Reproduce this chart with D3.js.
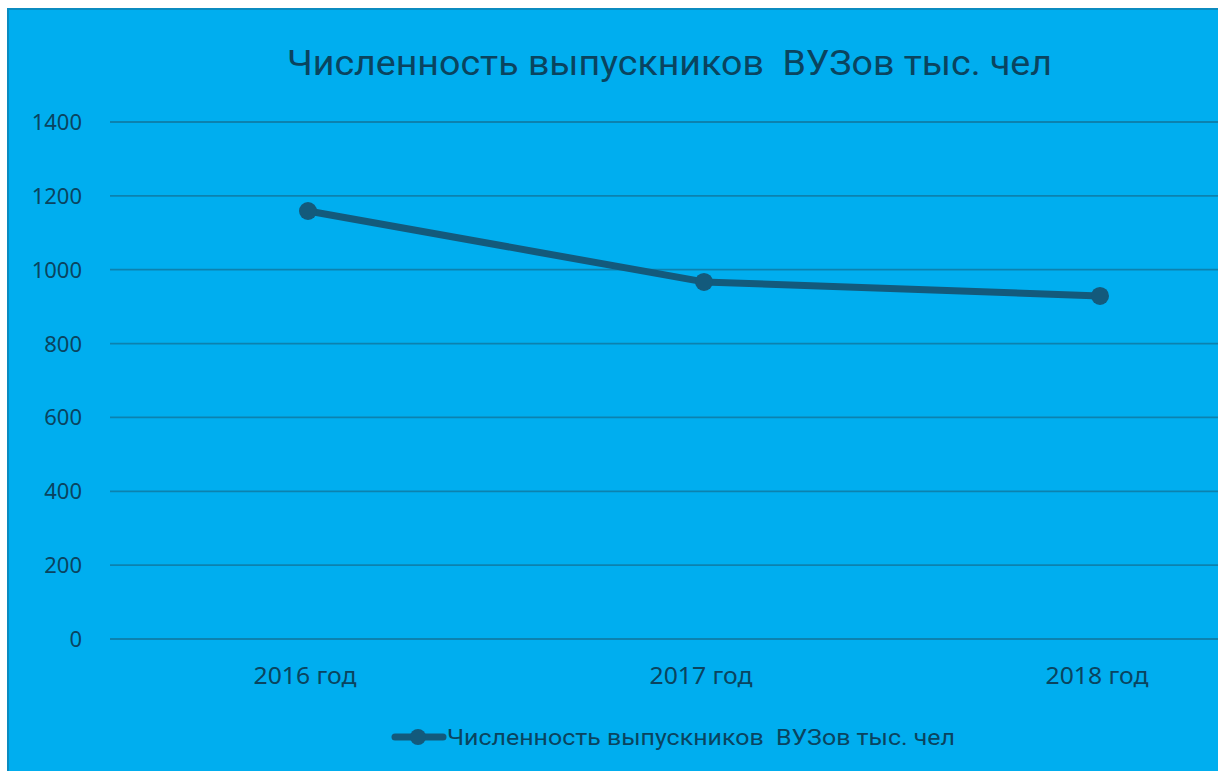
<!DOCTYPE html>
<html>
<head>
<meta charset="utf-8">
<title>Численность выпускников ВУЗов</title>
<script src="https://cdn.jsdelivr.net/npm/d3@7"></script>
<style>
  * { margin:0; padding:0; }
  body { background:#fff; width:1218px; height:771px; overflow:hidden; }
  svg { display:block; }
  text { white-space: pre; }
</style>
</head>
<body>
<svg id="chart" width="1218" height="771"></svg>
<script>
// data
var years = ["2016 год", "2017 год", "2018 год"];
var graduates = [1159, 967, 929];
var yTicks = [0, 200, 400, 600, 800, 1000, 1200, 1400];
var titleText = "Численность выпускников  ВУЗов тыс. чел";

var bg = "#00AEEF", ink = "#0A445F", lineCol = "#135A7C", gridCol = "#0C82AF";

var svg = d3.select("#chart");

// chart frame (picture is cut off at right and bottom)
svg.append("rect").attr("x", 8).attr("y", 9).attr("width", 1230).attr("height", 780)
  .attr("fill", bg).attr("stroke", "#0B8CC0").attr("stroke-width", 2);

var x = d3.scalePoint().domain(years).range([308, 1100]);
var y = d3.scaleLinear().domain([0, 1400]).range([639, 122]);

// gridlines
svg.append("g").selectAll("line").data(yTicks).join("line")
  .attr("x1", 110).attr("x2", 1218)
  .attr("y1", function(d){ return y(d); }).attr("y2", function(d){ return y(d); })
  .attr("stroke", gridCol).attr("stroke-width", 1.8);

// y labels
svg.append("g").selectAll("text").data(yTicks).join("text")
  .attr("x", 82).attr("y", function(d){ return y(d) + 8; })
  .attr("text-anchor", "end")
  .attr("font-family", "Noto Sans, sans-serif").attr("font-size", 22)
  .attr("fill", ink).text(function(d){ return d; });

// x labels
svg.append("g").selectAll("text").data(years).join("text")
  .attr("x", function(d){ return x(d) - 3; }).attr("y", 684)
  .attr("text-anchor", "middle")
  .attr("font-family", "Noto Sans, sans-serif").attr("font-size", 23)
  .attr("textLength", 103).attr("lengthAdjust", "spacingAndGlyphs")
  .attr("fill", ink).text(function(d){ return d; });

// title
svg.append("text").attr("x", 287).attr("y", 75)
  .attr("font-family", "Liberation Sans Narrow, Roboto, sans-serif").attr("font-size", 35)
  .attr("textLength", 765).attr("lengthAdjust", "spacingAndGlyphs")
  .attr("fill", ink).text(titleText);

// series line
var line = d3.line().x(function(d, i){ return x(years[i]); }).y(function(d){ return y(d); });
svg.append("path").datum(graduates).attr("d", line)
  .attr("fill", "none").attr("stroke", lineCol).attr("stroke-width", 7)
  .attr("stroke-linejoin", "round").attr("stroke-linecap", "round");

svg.append("g").selectAll("circle").data(graduates).join("circle")
  .attr("cx", function(d, i){ return x(years[i]); }).attr("cy", function(d){ return y(d); })
  .attr("r", 9).attr("fill", lineCol);

// legend
svg.append("line").attr("x1", 395).attr("x2", 443).attr("y1", 737).attr("y2", 737)
  .attr("stroke", lineCol).attr("stroke-width", 7).attr("stroke-linecap", "round");
svg.append("circle").attr("cx", 418).attr("cy", 737).attr("r", 8).attr("fill", lineCol);
svg.append("text").attr("x", 447).attr("y", 745)
  .attr("font-family", "Liberation Sans Narrow, Roboto, sans-serif").attr("font-size", 22)
  .attr("textLength", 508).attr("lengthAdjust", "spacingAndGlyphs")
  .attr("fill", ink).text(titleText);
</script>
</body>
</html>
